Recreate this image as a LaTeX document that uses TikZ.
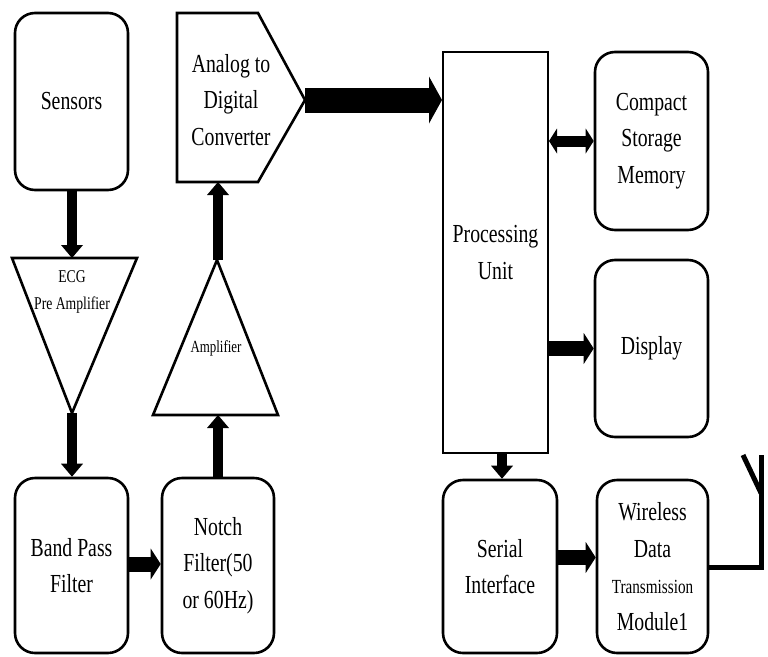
\documentclass[tikz,border=0pt]{standalone}
\usepackage{fontspec}
\setmainfont{Liberation Serif}[FakeStretch=0.76]
\usetikzlibrary{arrows.meta,calc}
\begin{document}
\begin{tikzpicture}[x=1pt,y=-1pt,
  txt/.style={align=center,inner sep=0pt,font=\fontsize{26}{36.5}\selectfont},
  box/.style={txt,draw,line width=2.6pt,rounded corners=20pt},
  shapeline/.style={draw,line width=2.6pt,line join=miter},
  arrV/.style={line width=10pt,-{Triangle[length=13pt,width=22pt,line width=0pt]}},
  arrH/.style={line width=15pt,-{Triangle[length=10pt,width=31pt,line width=0pt]}},
  arrBig/.style={line width=25pt,-{Triangle[length=13pt,width=47pt,line width=0pt]}},
  arrD/.style={line width=11pt,{Triangle[length=8pt,width=25pt,line width=0pt]}-{Triangle[length=8pt,width=25pt,line width=0pt]}},
  ant/.style={line width=5pt,line cap=butt,line join=miter}]
\useasboundingbox (0,0) rectangle (768,656);

% rounded boxes
\node[box,minimum width=113pt,minimum height=177pt] (sensors) at (71.5,101.5) {Sensors};
\node[box,minimum width=113pt,minimum height=175pt] (bpf) at (71.5,565.5) {Band Pass\\Filter};
\node[box,minimum width=112pt,minimum height=175pt] (notch) at (218,565.5) {Notch\\Filter(50\\or 60Hz)};
\node[txt,draw,line width=2pt,minimum width=105pt,minimum height=401pt] (pu) at (495.5,252.5) {Processing\\Unit};
\node[box,minimum width=113pt,minimum height=178pt] (csm) at (651.5,141) {Compact\\Storage\\Memory};
\node[box,minimum width=113pt,minimum height=177pt] (disp) at (651.5,348.5) {Display};
\node[box,minimum width=114pt,minimum height=173pt] (serial) at (500,566.5) {Serial\\Interface};
\node[box,minimum width=111pt,minimum height=173pt] (wtm) at (652.5,566.5) {Wireless\\Data\\{\fontsize{20}{36.5}\selectfont Transmission}\\Module1};

% ADC pentagon
\draw[shapeline] (177,13) -- (258,13) -- (305,100) -- (258,182) -- (177,182) -- cycle;
\coordinate (adctip) at (305,100);
\coordinate (adcbot) at (218,182);
\node[txt] (adc) at (231,100) {Analog to\\Digital\\Converter};

% ECG pre amplifier (inverted triangle)
\draw[shapeline] (12,258) -- (137,258) -- (72,413) -- cycle;
\coordinate (ecgtop) at (72,258);
\coordinate (ecgbot) at (72,413);
\node[txt,font=\fontsize{18}{27}\selectfont] (ecg) at (72,292) {ECG\\Pre Amplifier};

% Amplifier triangle
\draw[shapeline] (217,260) -- (278,415) -- (153,415) -- cycle;
\coordinate (amptop) at (218,260);
\coordinate (ampbot) at (218,415);
\node[txt,font=\fontsize{17}{20}\selectfont] (amp) at (216,348) {Amplifier};

% connectors
\coordinate (puser) at (502,453);
\draw[arrV] (sensors.south -| ecgtop) -- (ecgtop);
\draw[arrV] (ecgbot) -- (ecgbot |- bpf.north);
\draw[arrH] ($(bpf.east)+(0,-1.5)$) -- ($(notch.west)+(0,-1.5)$);
\draw[arrV] (notch.north -| ampbot) -- (ampbot);
\draw[arrV] (amptop) -- (adcbot);
\draw[arrBig] (adctip) -- (adctip -| pu.west);
\draw[arrD] (pu.east |- csm.west) -- (csm.west);
\draw[arrH] (pu.east |- disp.west) -- (disp.west);
\draw[arrV] (puser) -- (puser |- serial.north);
\draw[arrH] ($(serial.east)+(0,-9)$) -- ($(wtm.west)+(0,-9)$);

% antenna
\coordinate (antbase) at (761,567);
\coordinate (anttop) at (761,455);
\coordinate (antleft) at (743,455);
\coordinate (antjoin) at (761,493);
\draw[ant] (wtm.east |- antbase) -- (antbase) -- (anttop);
\draw[ant] (antleft) -- (antjoin);
\end{tikzpicture}
\end{document}
